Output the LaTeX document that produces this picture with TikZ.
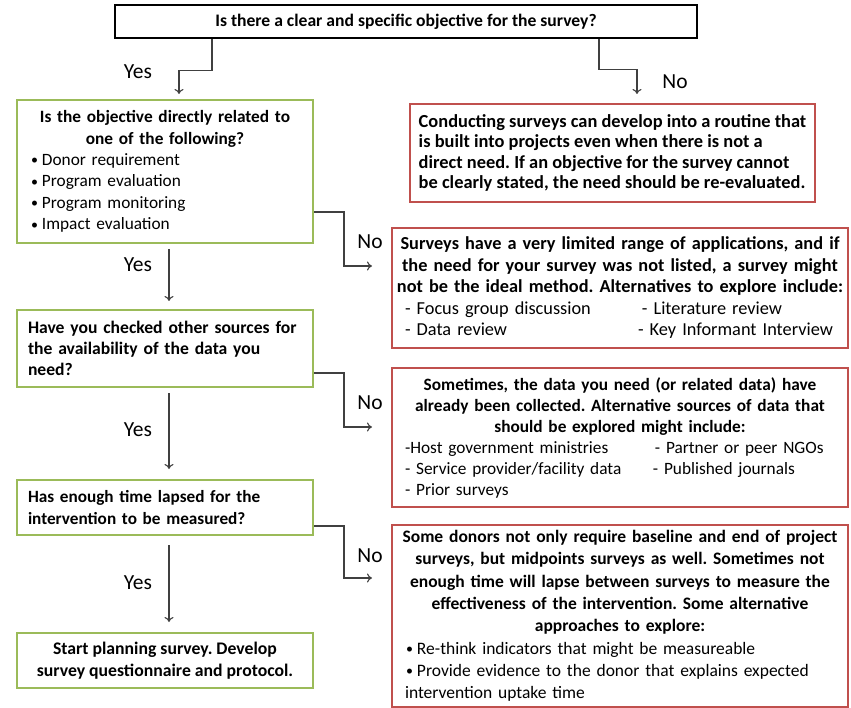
\documentclass[tikz,border=0pt]{standalone}
\usepackage{fontspec}
\setmainfont{Carlito}
\usetikzlibrary{arrows.meta}
\definecolor{gbox}{RGB}{155,187,89}
\definecolor{rbox}{RGB}{192,80,77}
\definecolor{conncol}{RGB}{64,64,64}
\newcommand\mybul{\raisebox{0.5pt}{\fontsize{14}{14}\selectfont\textbullet}\hspace{4pt}}
\tikzset{
  fs/.style 2 args={font=\fontsize{#1}{#2}\selectfont\frenchspacing},
  fsb/.style 2 args={font=\fontsize{#1}{#2}\selectfont\frenchspacing\bfseries},
  greenbox/.style={draw=gbox,line width=2pt,minimum width=296pt,inner xsep=3pt,inner ysep=0pt},
  redbox/.style={draw=rbox,line width=2pt,minimum width=456pt,inner xsep=3pt,inner ysep=0pt},
  conn/.style={draw=conncol,line width=1.1pt,-{To[length=5pt,width=9pt]}},
  lab/.style={font=\fontsize{21.5}{24}\selectfont,inner sep=0pt}
}
\begin{document}
\begin{tikzpicture}[x=1pt,y=-1pt]
\useasboundingbox (0,0) rectangle (851,708);
% top
\node[draw=black,line width=2.5pt,fsb={17.6}{21.5},minimum width=582pt,minimum height=33pt,inner sep=0pt] (top) at (406,21.5) {Is there a clear and specific objective for the survey?};
% left column
\node[greenbox,fs={17.3}{21.4},minimum height=143pt,text width=290pt,align=left] (g1) at (165,171.5)
 {{\centering\bfseries Is the objective directly related to\\ one of the following?\par}
  \hspace*{11pt}\mybul Donor requirement\\ \hspace*{11pt}\mybul Program evaluation\\ \hspace*{11pt}\mybul Program monitoring\\ \hspace*{11pt}\mybul Impact evaluation};
\node[greenbox,fsb={17.6}{21.2},minimum height=77pt,text width=274pt,inner xsep=11pt,align=left] (g2) at (165,348.5)
 {Have you checked other sources for\\ the availability of the data you\\ need?};
\node[greenbox,fsb={17.2}{21.2},minimum height=55pt,text width=274pt,inner xsep=11pt,align=left] (g3) at (165,507.5)
 {Has enough time lapsed for the\\ intervention to be measured?};
\node[greenbox,fsb={17.7}{21.8},minimum height=55pt,align=center] (g4) at (165,660.5)
 {Start planning survey. Develop\\ survey questionnaire and protocol.};
% right column
\node[redbox,fsb={18.4}{20.5},minimum width=405pt,minimum height=98pt,align=left] (r1) at (612.5,153)
 {Conducting surveys can develop into a routine that\\ is built into projects even when there is not a\\ direct need. If an objective for the survey cannot\\ be clearly stated, the need should be re-evaluated.};
\node[redbox,fs={18.3}{21.5},minimum height=120pt,text width=450pt,align=left] (r2) at (620,288)
 {{\centering\bfseries Surveys have a very limited range of applications, and if\\ the need for your survey was not listed, a survey might\\ not be the ideal method. Alternatives to explore include:\par}
  \hspace*{10pt}\makebox[237pt][l]{- Focus group discussion}- Literature review\\
  \hspace*{10pt}\makebox[233pt][l]{- Data review}- Key Informant Interview};
\node[redbox,fs={17.3}{21},minimum height=139pt,text width=450pt,align=left] (r3) at (620,437.5)
 {{\centering\bfseries Sometimes, the data you need (or related data) have\\ already been collected. Alternative sources of data that\\ should be explored might include:\par}
  \hspace*{10pt}\makebox[250pt][l]{-Host government ministries}- Partner or peer NGOs\\
  \hspace*{10pt}\makebox[248pt][l]{- Service provider/facility data}- Published journals\\
  \hspace*{10pt}- Prior surveys};
\node[redbox,fs={17.5}{22.3},minimum height=182pt,text width=450pt,align=left] (r4) at (620,616)
 {{\centering\bfseries Some donors not only require baseline and end of project\\ surveys, but midpoints surveys as well. Sometimes not\\ enough time will lapse between surveys to measure the\\ effectiveness of the intervention. Some alternative\\ approaches to explore:\par}
  \hspace*{11pt}\mybul Re-think indicators that might be measureable\\
  \hspace*{11pt}\mybul Provide evidence to the donor that explains expected\\
  \hspace*{10pt}intervention uptake time};
% connectors
\draw[conn,shorten >=5pt] ([xshift=-194pt]top.south) -- ++(0,31) -| ([xshift=14pt]g1.north);
\draw[conn,shorten >=9pt] ([xshift=193pt]top.south) -- ++(0,30) -| ([xshift=24.5pt]r1.north);
\draw[conn,shorten <=5pt,shorten >=8pt] ([xshift=4pt]g1.south) -- ([xshift=4pt]g2.north);
\draw[conn,shorten <=5pt,shorten >=10pt] ([xshift=4pt]g2.south) -- ([xshift=4pt]g3.north);
\draw[conn,shorten <=9pt,shorten >=10pt] ([xshift=4pt]g3.south) -- ([xshift=4pt]g4.north);
\draw[conn,shorten >=19pt] ([yshift=-40.5pt]g1.east) -- ++(30,0) |- ([yshift=22pt]r2.west);
\draw[conn,shorten >=19pt] ([yshift=-24.5pt]g2.east) -- ++(30,0) |- ([yshift=10.5pt]r3.west);
\draw[conn,shorten >=19pt] ([yshift=-18.5pt]g3.east) -- ++(30,0) |- ([yshift=38pt]r4.west);
% labels
\node[lab] (y1) at (138,72) {Yes};
\node[lab] (n1) at (675,82) {No};
\node[lab] (y2) at (138,265) {Yes};
\node[lab] (n2) at (370,242) {No};
\node[lab] (y3) at (138,430) {Yes};
\node[lab] (n3) at (370,403) {No};
\node[lab] (y4) at (138,583) {Yes};
\node[lab] (n4) at (370,556) {No};
\end{tikzpicture}
\end{document}
